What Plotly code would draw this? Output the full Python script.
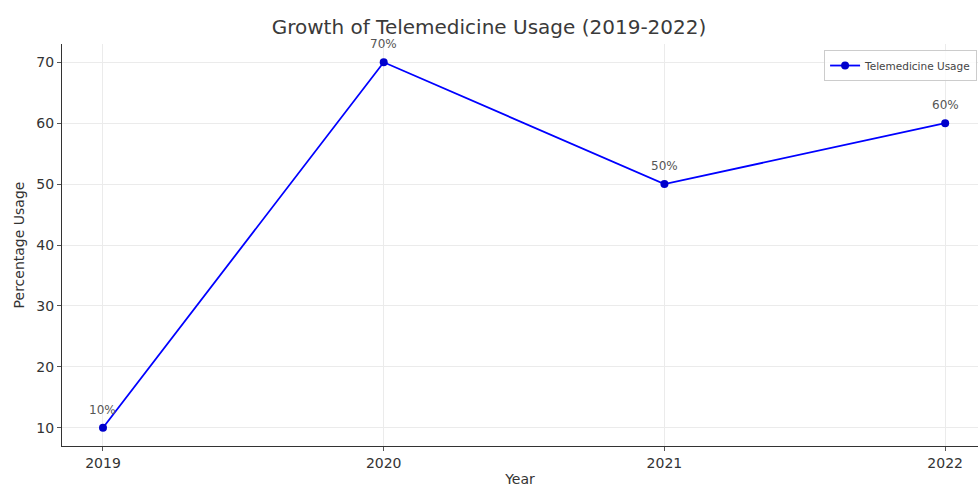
import plotly.graph_objects as go

years = [2019, 2020, 2021, 2022]
usage = [10, 70, 50, 60]
labels = ["10%", "70%", "50%", "60%"]
series_name = "Telemedicine Usage"
title = "Growth of Telemedicine Usage (2019-2022)"

fig = go.Figure()
fig.add_trace(go.Scatter(
    x=years, y=usage, mode="lines+markers", name=series_name,
    line=dict(color="#0000ff", width=1.8),
    marker=dict(color="#0000cc", size=8),
))
for xv, yv, t in zip(years, usage, labels):
    fig.add_annotation(x=xv, y=yv, text=t, showarrow=False, yshift=18,
                       font=dict(family="DejaVu Sans", size=12, color="#555555"))

fig.update_layout(
    width=978, height=487,
    margin=dict(l=62, r=0, t=44, b=41),
    paper_bgcolor="white", plot_bgcolor="white",
    title=dict(text=title, x=0.5, xanchor="center", y=0.945, yanchor="middle",
               font=dict(family="DejaVu Sans", size=20, color="#3a3a3a")),
    font=dict(family="DejaVu Sans", color="#333333"),
    showlegend=True,
    legend=dict(x=0.999, y=0.985, xanchor="right", yanchor="top",
                bgcolor="rgba(255,255,255,0.8)", bordercolor="#cccccc", borderwidth=1,
                font=dict(family="DejaVu Sans", size=10.5, color="#444444")),
)
fig.update_xaxes(
    range=[2018.854, 2022.117], tickmode="array", tickvals=years,
    ticktext=[str(y) for y in years],
    showgrid=True, gridcolor="#ebebeb", gridwidth=1,
    showline=True, linecolor="#333333", linewidth=1.2, mirror=False,
    ticks="outside", ticklen=4, tickcolor="#555555",
    tickfont=dict(size=14, color="#333333"),
    title=dict(text="Year", font=dict(size=14, color="#333333"), standoff=6),
    zeroline=False,
)
fig.update_yaxes(
    range=[7, 73], tickmode="array", tickvals=[10, 20, 30, 40, 50, 60, 70],
    showgrid=True, gridcolor="#ebebeb", gridwidth=1,
    showline=True, linecolor="#333333", linewidth=1.2, mirror=False,
    ticks="outside", ticklen=4, tickcolor="#555555",
    tickfont=dict(size=14, color="#333333"),
    title=dict(text="Percentage Usage", font=dict(size=14, color="#333333"), standoff=8),
    zeroline=False,
)

fig.write_html("out.html")
